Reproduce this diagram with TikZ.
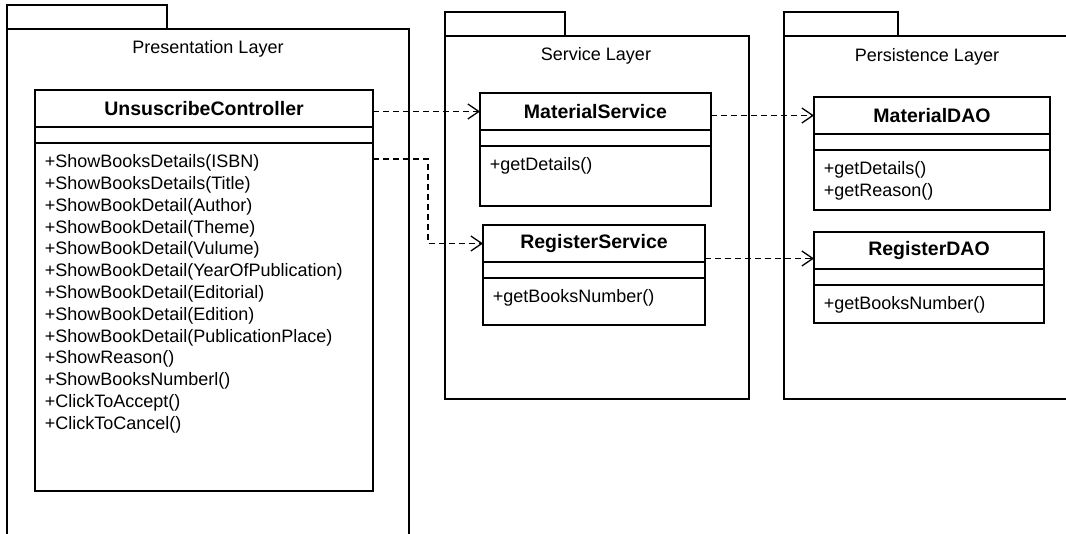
\documentclass[tikz,border=0pt]{standalone}
\usepackage{fontspec}
\setmainfont{Liberation Sans}
\usetikzlibrary{arrows.meta,positioning}

\begin{document}
\begin{tikzpicture}[x=1pt, y=-1pt, line width=1.5pt,
  font=\fontsize{18}{21.8}\selectfont,
  box/.style={draw, rectangle, outer sep=0pt, inner sep=0pt},
  cname/.style={box, anchor=north west, font=\fontsize{19.5}{21.8}\selectfont\bfseries, minimum height=37pt},
  blank/.style={box, minimum height=16pt},
  ops/.style={align=left, inner xsep=9pt, inner ysep=11pt, anchor=north west},
  dep/.style={line width=1.3pt, dash pattern=on 6pt off 4pt, -{Straight Barb[length=11pt, width=15pt]}}]
  \useasboundingbox (0,0) rectangle (1066,534);

  % packages
  \draw (7,5) rectangle (167,29);
  \draw (7,534) -- (7,29) -- (409,29) -- (409,534);
  \node (presLbl) at (208,49) {Presentation Layer};
  \draw (445,12) rectangle (565,36);
  \draw (445,36) rectangle (749,399);
  \node (servLbl) at (596,56) {Service Layer};
  \draw (784,12) rectangle (898,36);
  \draw (1066,36) -- (784,36) -- (784,399) -- (1066,399);
  \node (persLbl) at (927,57) {Persistence Layer};

  % UnsuscribeController
  \node (ctrlT) [cname, minimum width=338pt] at (35,90) {UnsuscribeController};
  \node (ctrlE) [blank, minimum width=338pt, below=0pt of ctrlT] {};
  \node (ctrlM) [box, minimum width=338pt, minimum height=348pt, below=0pt of ctrlE] {};
  \node (ctrlOps) [ops] at (ctrlM.north west)
    {+ShowBooksDetails(ISBN)\\ +ShowBooksDetails(Title)\\ +ShowBookDetail(Author)\\
     +ShowBookDetail(Theme)\\ +ShowBookDetail(Vulume)\\ +ShowBookDetail(YearOfPublication)\\
     +ShowBookDetail(Editorial)\\ +ShowBookDetail(Edition)\\ +ShowBookDetail(PublicationPlace)\\
     +ShowReason()\\ +ShowBooksNumberl()\\ +ClickToAccept()\\ +ClickToCancel()};

  % MaterialService
  \node (msT) [cname, minimum width=231pt] at (480,93) {MaterialService};
  \node (msE) [blank, minimum width=231pt, below=0pt of msT] {};
  \node (msM) [box, minimum width=231pt, minimum height=60pt, below=0pt of msE] {};
  \node (msOps) [ops] at (msM.north west) {+getDetails()};

  % RegisterService
  \node (rsT) [cname, minimum width=222pt] at (483,225) {RegisterService};
  \node (rsE) [blank, minimum width=222pt, below=0pt of rsT] {};
  \node (rsM) [box, minimum width=222pt, minimum height=47pt, below=0pt of rsE] {};
  \node (rsOps) [ops] at (rsM.north west) {+getBooksNumber()};

  % MaterialDAO
  \node (mdaoT) [cname, minimum width=236pt] at (814,97) {MaterialDAO};
  \node (mdaoE) [blank, minimum width=236pt, below=0pt of mdaoT] {};
  \node (mdaoM) [box, minimum width=236pt, minimum height=60pt, below=0pt of mdaoE] {};
  \node (mdaoOps) [ops] at (mdaoM.north west) {+getDetails()\\ +getReason()};

  % RegisterDAO
  \node (rdaoT) [cname, minimum width=230pt] at (814,232) {RegisterDAO};
  \node (rdaoE) [blank, minimum width=230pt, below=0pt of rdaoT] {};
  \node (rdaoM) [box, minimum width=230pt, minimum height=38pt, below=0pt of rdaoE] {};
  \node (rdaoOps) [ops] at (rdaoM.north west) {+getBooksNumber()};

  % dependencies
  \coordinate (ctrlOut) at ([yshift=-16pt]ctrlM.north east);
  \coordinate (rdaoIn) at ([yshift=-8pt]rdaoT.west);
  \draw[dep] (ctrlT.east |- msT.west) -- (msT.west);
  \draw[dep] (ctrlOut) -- ++(55,0) |- (rsT.west);
  \draw[dep] (msT.east |- mdaoT.west) -- (mdaoT.west);
  \draw[dep] (rsT.east |- rdaoIn) -- (rdaoIn);
\end{tikzpicture}
\end{document}
